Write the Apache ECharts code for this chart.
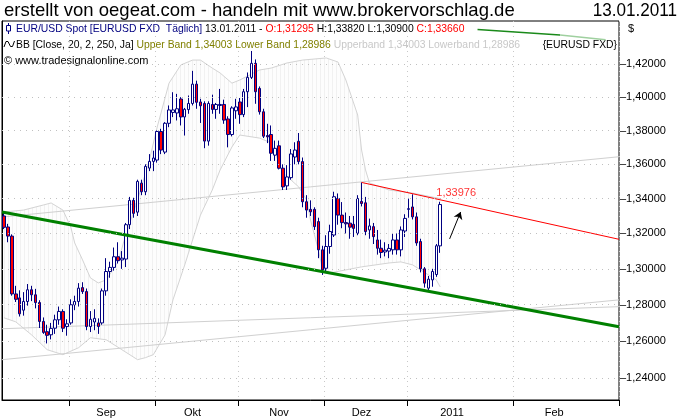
<!DOCTYPE html>
<html><head><meta charset="utf-8">
<script src="https://cdn.jsdelivr.net/npm/echarts@6/dist/echarts.min.js"></script>
<style>html,body{margin:0;padding:0;background:#fff}#c{width:680px;height:420px}</style>
</head><body><div id="c"></div>
<script>
const FONT = '"Liberation Sans", Arial, sans-serif';

// ---- Daily candles EUR/USD, 09.08.2010 .. 13.01.2011 (trading days) ----
const open = [1.3300,1.3237,1.3185,1.2860,1.2838,1.2770,1.2818,1.2883,1.2855,1.2812,
1.2708,1.2652,1.2635,1.2671,1.2717,1.2763,1.2680,1.2700,1.2800,1.2818,
1.2895,1.2873,1.2680,1.2705,1.2700,1.2700,1.2877,1.2985,1.3008,1.3068,
1.3050,1.3055,1.3250,1.3390,1.3322,1.3490,1.3440,1.3578,1.3617,1.3625,
1.3794,1.3672,1.3843,1.3908,1.3905,1.3989,1.3881,1.3925,1.3962,1.4079,
1.3971,1.3962,1.3737,1.3956,1.3926,1.3950,1.3956,1.3869,1.3776,1.3918,
1.3971,1.3895,1.4033,1.4120,1.4206,1.4053,1.3912,1.3770,1.3776,1.3654,
1.3709,1.3577,1.3474,1.3522,1.3643,1.3736,1.3616,1.3382,1.3338,1.3338,
1.3268,1.3107,1.3003,1.3126,1.3191,1.3401,1.3305,1.3262,1.3259,1.3252,
1.3201,1.3384,1.3376,1.3220,1.3239,1.3163,1.3116,1.3095,1.3100,1.3107,
1.3163,1.3107,1.3214,1.3338,1.3352,1.3295,1.3154,1.3000,1.2892,1.2938,
1.2968,1.31295];
const high = [1.3325,1.3255,1.3195,1.2905,1.2880,1.2870,1.2915,1.2905,1.2888,1.2825,
1.2730,1.2690,1.2700,1.2745,1.2790,1.2775,1.2720,1.2830,1.2850,1.2920,
1.2925,1.2890,1.2765,1.2775,1.2725,1.2890,1.3060,1.3040,1.3120,1.3150,
1.3100,1.3260,1.3410,1.3405,1.3510,1.3510,1.3600,1.3660,1.3680,1.3800,
1.3810,1.3850,1.3950,1.4030,1.4020,1.4000,1.3935,1.4010,1.4160,1.4100,
1.3990,1.3975,1.3975,1.4015,1.3965,1.4050,1.3985,1.3885,1.3945,1.3990,
1.3995,1.4050,1.4150,1.4282,1.4230,1.4065,1.3930,1.3840,1.3830,1.3740,
1.3740,1.3600,1.3595,1.3690,1.3730,1.3785,1.3640,1.3420,1.3390,1.3350,
1.3290,1.3130,1.3190,1.3250,1.3440,1.3430,1.3380,1.3320,1.3300,1.3300,
1.3420,1.3494,1.3410,1.3285,1.3260,1.3220,1.3165,1.3150,1.3140,1.3200,
1.3200,1.3240,1.3310,1.3400,1.3425,1.3320,1.3170,1.3010,1.2960,1.3000,
1.3140,1.33820];
const low = [1.3225,1.3150,1.2850,1.2815,1.2735,1.2740,1.2795,1.2820,1.2780,1.2672,
1.2640,1.2588,1.2610,1.2640,1.2690,1.2650,1.2630,1.2690,1.2770,1.2790,
1.2860,1.2660,1.2650,1.2660,1.2640,1.2690,1.2850,1.2950,1.2990,1.3030,
1.3000,1.3010,1.3225,1.3290,1.3300,1.3420,1.3420,1.3560,1.3560,1.3610,
1.3660,1.3660,1.3820,1.3880,1.3860,1.3830,1.3770,1.3900,1.3950,1.3930,
1.3845,1.3695,1.3710,1.3900,1.3870,1.3900,1.3840,1.3700,1.3765,1.3870,
1.3840,1.3880,1.3940,1.4110,1.3960,1.3895,1.3755,1.3725,1.3620,1.3620,
1.3570,1.3450,1.3450,1.3510,1.3600,1.3600,1.3350,1.3290,1.3300,1.3220,
1.3060,1.2966,1.2980,1.3085,1.3180,1.3250,1.3230,1.3200,1.3170,1.3180,
1.3190,1.3355,1.3190,1.3170,1.3140,1.3080,1.3060,1.3070,1.3060,1.3080,
1.3080,1.3070,1.3180,1.3290,1.3280,1.3130,1.2980,1.2895,1.2874,1.2900,
1.2955,1.30900];
const close = [1.3235,1.3185,1.2860,1.2830,1.2750,1.2818,1.2883,1.2855,1.2812,1.2708,
1.2648,1.2632,1.2670,1.2717,1.2763,1.2671,1.2695,1.2800,1.2818,1.2892,
1.2873,1.2680,1.2720,1.2725,1.2680,1.2877,1.2985,1.3008,1.3068,1.3046,
1.3060,1.3250,1.3390,1.3315,1.3500,1.3440,1.3588,1.3617,1.3637,1.3794,
1.3684,1.3843,1.3923,1.3923,1.3930,1.3881,1.3927,1.3962,1.4079,1.3969,
1.3948,1.3737,1.3962,1.3926,1.3956,1.3956,1.3862,1.3776,1.3935,1.3941,
1.3895,1.4033,1.4120,1.4206,1.4033,1.3912,1.3766,1.3762,1.3665,1.3694,
1.3577,1.3468,1.3526,1.3661,1.3684,1.3616,1.3382,1.3334,1.3324,1.3239,
1.3107,1.2994,1.3126,1.3211,1.3411,1.3305,1.3262,1.3255,1.3236,1.3229,
1.3401,1.3372,1.3211,1.3243,1.3182,1.3116,1.3092,1.3105,1.3115,1.3163,
1.3107,1.3220,1.3286,1.3342,1.3295,1.3146,1.3000,1.2920,1.2942,1.2985,
1.3130,1.33660];

// ---- Bollinger bands (20,2): candle index -> value ----
const upperIdx = [0,5,10,12,15,17,18,20,22,24,26,29,31,34,37,39,42,45,48,50,53,55,58,60,65,68,72,76,82,85,87,90,91,92,93,98,104,111];
const upperVal = [1.3323,1.3334,1.3363,1.3375,1.3334,1.3237,1.3146,1.3050,1.2949,1.2921,1.2938,1.3039,1.3192,1.3392,1.3625,1.3821,1.4085,1.4196,1.4226,1.4226,1.4177,1.4147,1.4085,1.4104,1.4165,1.4177,1.4208,1.4226,1.4239,1.4214,1.4104,1.3893,1.3684,1.3567,1.3491,1.3450,1.3432,1.34003];
const lowerIdx = [0,3,7,11,15,19,22,26,30,34,36,38,41,43,46,48,50,53,55,58,60,65,68,71,75,77,78,80,81,83,87,91,98,101,104,106,110,111];
const lowerVal = [1.2728,1.2706,1.2635,1.2554,1.2527,1.2565,1.2619,1.2608,1.2554,1.2500,1.2511,1.2527,1.2635,1.2827,1.3022,1.3163,1.3305,1.3450,1.3567,1.3702,1.3773,1.3755,1.3726,1.3550,1.3468,1.3392,1.3277,1.3107,1.3005,1.2977,1.2994,1.3011,1.3033,1.3039,1.3022,1.2994,1.2938,1.28986];

// ---- drawn trend lines: [slot position, price] pairs ----
const greenTrend = [[0,1.33230],[157,1.26795]];
const redTrend = [[91.5,1.34940],[157,1.31668]];
const grayLine1 = [[0,1.32940],[157,1.36445]];
const grayLine2 = [[0,1.26680],[157,1.27894]];
const grayLine3 = [[0,1.25000],[157,1.28270]];
const topGreenDark = [[121,1.44150],[142,1.43810]];
const topGreenLight = [[142,1.43810],[153.6,1.43510]];
const arrowLine = [[113.9,1.31690],[116.7,1.33230]];
const redLabelValue = 1.33976;

// ---- axis ticks / labels ----
const priceTicks = [1.24,1.26,1.28,1.30,1.32,1.34,1.36,1.38,1.40,1.42];
const monthLabels = ['Sep','Okt','Nov','Dez','2011','Feb'];
const monthLabelDates = ['2010-09-14','2010-10-14','2010-11-15','2010-12-14','2011-01-16','2011-02-11'];

// categories: trading days (no 24.12 / 31.12), then calendar days after the last bar
const dates = [];
(function(){
  const skip = ['2010-12-24','2010-12-31'];
  let t = Date.UTC(2010,7,9);
  const lastTrade = Date.UTC(2011,0,13), end = Date.UTC(2011,1,27);
  while (t <= end) {
    const d = new Date(t); const s = d.toISOString().slice(0,10); const wd = d.getUTCDay();
    if (t > lastTrade || (wd !== 0 && wd !== 6 && skip.indexOf(s) < 0)) dates.push(s);
    t += 86400000;
  }
})();
const NS = dates.length;
function isMonthStart(i){ return i > 0 && dates[i].slice(0,7) !== dates[i-1].slice(0,7); }

function makePattern(){
  const c = document.createElement('canvas'); c.width = 4; c.height = 4;
  const g = c.getContext('2d');
  g.fillStyle = '#fdfdfd'; g.fillRect(0,0,4,4);
  g.fillStyle = '#f1f1f1'; g.fillRect(0,0,1,4);
  return c;
}
const pat = makePattern();

const chart = echarts.init(document.getElementById('c'), null, {renderer:'canvas', width:680, height:420});

function seg(data, color, width, z, extra){
  return Object.assign({type:'line', xAxisIndex:1, yAxisIndex:0, data:data, symbol:'none', silent:true,
    lineStyle:{color:color, width:width}, z:z, animation:false}, extra||{});
}

const F11 = '11px ' + FONT;
const option = {
  animation:false,
  backgroundColor:'#ffffff',
  textStyle:{fontFamily:FONT},
  grid:{left:2, right:61, top:21, bottom:20, show:true, borderColor:'#000', borderWidth:1, containLabel:false, outerBoundsMode:'none'},
  xAxis:[{
    type:'category', data:dates, boundaryGap:true,
    axisLine:{show:true, lineStyle:{color:'#000', width:1}},
    axisTick:{show:true, length:6, lineStyle:{color:'#000'}, interval:function(i){return isMonthStart(i);}},
    axisLabel:{show:true, interval:function(i,v){return monthLabelDates.indexOf(v) >= 0;},
      formatter:function(v){const k = monthLabelDates.indexOf(v); return k>=0 ? monthLabels[k] : '';},
      color:'#000', fontSize:11, fontFamily:FONT, margin:7},
    splitLine:{show:true, interval:function(i){return isMonthStart(i);}, lineStyle:{color:'#c8c8c8', width:1, type:[1,4]}}
  },{
    type:'value', min:0, max:NS, show:false
  }],
  yAxis:{
    type:'log', logBase:10, min:1.22843, max:1.4468, position:'right',
    axisLine:{show:true, lineStyle:{color:'#000', width:1}},
    axisTick:{show:false}, axisLabel:{show:false}, splitLine:{show:false}
  },
  series:[
    {
      type:'custom', xAxisIndex:1, yAxisIndex:0, silent:true, z:1, animation:false,
      data:[[0, upperVal[0]]],
      renderItem:function(params, api){
        const pts = [];
        for (let k=0;k<upperIdx.length;k++) pts.push(api.coord([upperIdx[k]+0.5, upperVal[k]]));
        for (let k=lowerIdx.length-1;k>=0;k--) pts.push(api.coord([lowerIdx[k]+0.5, lowerVal[k]]));
        return {type:'polygon', shape:{points:pts}, style:{fill:{image:pat, repeat:'repeat'}, stroke:null}};
      }
    },
    seg(upperIdx.map((x,k)=>[x+0.5, upperVal[k]]), '#d4d4d4', 1, 2),
    seg(lowerIdx.map((x,k)=>[x+0.5, lowerVal[k]]), '#d4d4d4', 1, 2),
    seg(grayLine1, '#d0d0d0', 1, 2, {clip:false, markLine:{
      silent:true, symbol:'none', animation:false,
      lineStyle:{color:'#c0c0c0', width:1, type:[1,5]},
      label:{show:true, position:'end', distance:1, color:'#000', fontSize:11, fontFamily:FONT,
        formatter:function(p){return '\u2013' + Number(p.value).toFixed(5).replace('.', ',');}},
      data:priceTicks.map(v=>({yAxis:v}))
    }}),
    seg(grayLine2, '#d0d0d0', 1, 2),
    seg(grayLine3, '#d0d0d0', 1, 2),
    {
      type:'candlestick', xAxisIndex:0, yAxisIndex:0, z:3, silent:true, animation:false,
      barWidth:3,
      data:open.map((o,i)=>[o, close[i], low[i], high[i]]),
      itemStyle:{color:'#ffffff', color0:'#ff0000', borderColor:'#000080', borderColor0:'#000080', borderWidth:1}
    },
    seg(greenTrend, '#008000', 3, 4),
    seg(redTrend, '#ff0000', 1, 4, {markLine:{
      silent:true, animation:false, symbol:['none','arrow'], symbolSize:7,
      lineStyle:{color:'#000', width:1, type:'solid'}, label:{show:false},
      data:[[{coord:arrowLine[0]},{coord:arrowLine[1]}]]
    }}),
    seg(topGreenDark, '#1a8a1a', 1.5, 4, {clip:false}),
    seg(topGreenLight, '#9fd09f', 1.5, 4, {clip:false}),
    {
      type:'scatter', xAxisIndex:1, yAxisIndex:0, z:5, silent:true, animation:false,
      symbol:'circle', symbolSize:1, itemStyle:{color:'rgba(0,0,0,0)'},
      data:[[111.5, redLabelValue]],
      label:{show:true, position:'inside', offset:[16,-6], color:'#ff0000', fontSize:11, fontFamily:FONT,
        formatter:function(p){return Number(p.value[1]).toFixed(5).replace('.', ',');}}
    }
  ],
  graphic:[
    {type:'text', x:4, y:10.5, scaleX:0.975, silent:true,
      style:{text:'erstellt von oegeat.com - handeln mit www.brokervorschlag.de', font:'19px '+FONT, fill:'#000', verticalAlign:'middle'}},
    {type:'text', x:677, y:10.5, scaleX:0.9, silent:true,
      style:{text:'13.01.2011', font:'19px '+FONT, fill:'#000', align:'right', verticalAlign:'middle'}},
    {type:'line', silent:true, shape:{x1:8.5,y1:23,x2:8.5,y2:34}, style:{stroke:'#000080', lineWidth:1}},
    {type:'rect', silent:true, shape:{x:6.5,y:25.5,width:4,height:5.5}, style:{fill:'#fff', stroke:'#000080', lineWidth:1}},
    {type:'text', x:16, y:28.5, scaleX:0.943, silent:true, style:{
      text:'{n|EUR/USD Spot [EURUSD FXD  Täglich]}{k| 13.01.2011 - }{r|O:1,31295}{k| H:1,33820 L:1,30900 }{r|C:1,33660}',
      font:F11, fill:'#000', verticalAlign:'middle',
      rich:{n:{fill:'#000080', font:F11}, k:{fill:'#000', font:F11}, r:{fill:'#ff0000', font:F11}}}},
    {type:'polyline', silent:true, shape:{points:[[4,47],[6,41.5],[8,41.5],[10.5,46.5],[12.5,46.5],[14.5,41]]}, style:{stroke:'#000', lineWidth:1, fill:null}},
    {type:'text', x:16, y:44.5, scaleX:0.943, silent:true, style:{
      text:'{k|BB [Close, 20, 2, 250, Ja]}{o| Upper Band 1,34003 Lower Band 1,28986}{g| Upperband 1,34003 Lowerband 1,28986}',
      font:F11, fill:'#000', verticalAlign:'middle',
      rich:{k:{fill:'#000', font:F11}, o:{fill:'#808000', font:F11}, g:{fill:'#c8c8c8', font:F11}}}},
    {type:'text', x:617, y:44.5, scaleX:0.943, silent:true, style:{text:'{EURUSD FXD}', font:F11, fill:'#000', align:'right', verticalAlign:'middle'}},
    {type:'text', x:4, y:60.5, silent:true, style:{text:'\u00a9 www.tradesignalonline.com', font:F11, fill:'#000', verticalAlign:'middle'}},
    {type:'text', x:628, y:28.5, silent:true, style:{text:'$', font:F11, fill:'#000', verticalAlign:'middle'}}
  ]
};
chart.setOption(option);
</script>
</body></html>
